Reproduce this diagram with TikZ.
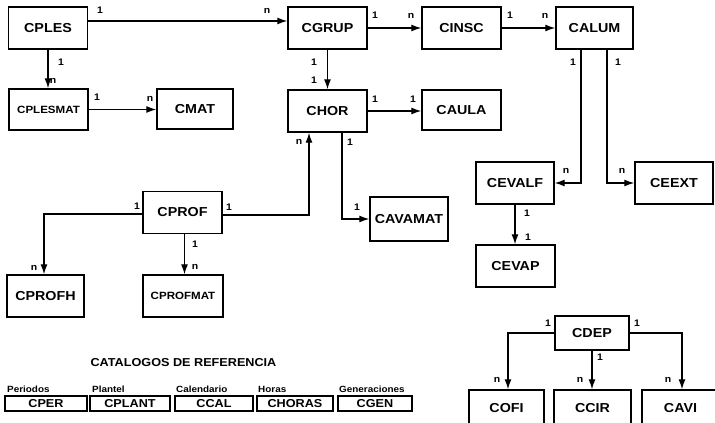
\documentclass[tikz,border=0pt]{standalone}
\usepackage{fontspec}
\setmainfont{Liberation Sans}[FakeStretch=1.1]
\usetikzlibrary{arrows.meta, positioning, calc}

\begin{document}
\begin{tikzpicture}[
    x=1pt, y=-1pt,
    font=\bfseries\fontsize{13}{15}\selectfont,
    rel/.style={-{Latex[length=10pt,width=7pt]}, line width=1.3pt, draw=black},
    entity/.style={draw=black, fill=white, line width=1.4pt, inner sep=0pt, minimum width=79pt, minimum height=42pt},
    smallentity/.style={entity, font=\bfseries\fontsize{10.5}{12}\selectfont},
    catalog/.style={draw=black, fill=white, line width=1.3pt, inner sep=0pt, minimum height=15pt, font=\bfseries\fontsize{11.5}{13}\selectfont},
    caption/.style={anchor=west, inner sep=0pt, font=\bfseries\fontsize{9}{10}\selectfont},
    card/.style={inner sep=0pt, font=\bfseries\fontsize{9.5}{10}\selectfont}
  ]
    \clip (0,0) rectangle (715,423);
    % tablas
    \node[entity] (CPLES) at (48,28) {CPLES};
    \node[entity] (CGRUP) at (327.5,28) {CGRUP};
    \node[entity] (CINSC) at (461.5,28) {CINSC};
    \node[entity, minimum width=77pt] (CALUM) at (594.5,28) {CALUM};
    \node[smallentity, minimum height=41pt] (CPLESMAT) at (48.5,109.5) {CPLESMAT};
    \node[entity, minimum width=76pt, minimum height=40pt] (CMAT) at (195,109) {CMAT};
    \node[entity] (CHOR) at (327.5,111) {CHOR};
    \node[entity, minimum height=40pt] (CAULA) at (461.5,110) {CAULA};
    \node[entity, minimum width=78pt] (CEVALF) at (515,183) {CEVALF};
    \node[entity, minimum width=78pt] (CEEXT) at (674,183) {CEEXT};
    \node[entity, minimum width=78pt, minimum height=44pt] (CAVAMAT) at (409,219) {CAVAMAT};
    \node[entity] (CPROF) at (182.5,212.5) {CPROF};
    \node[entity] (CEVAP) at (515.5,266) {CEVAP};
    \node[entity, minimum width=77pt] (CPROFH) at (45.5,296) {CPROFH};
    \node[smallentity, minimum width=80pt] (CPROFMAT) at (183,296) {CPROFMAT};
    \node[entity, minimum width=74pt, minimum height=34pt] (CDEP) at (592,333) {CDEP};
    \node[entity, minimum width=75pt, minimum height=36pt] (COFI) at (506.5,408) {COFI};
    \node[entity, minimum width=77pt, minimum height=36pt] (CCIR) at (592.5,408) {CCIR};
    \node[entity, minimum width=77pt, minimum height=36pt] (CAVI) at (680.5,408) {CAVI};
    % relaciones
    \draw[rel] ([yshift=7pt]CPLES.east) -- ([yshift=7pt]CGRUP.west);
    \draw[rel] (CPLES.south) -- (CPLES.south |- CPLESMAT.north);
    \draw[rel] (CPLESMAT.east) -- (CPLESMAT.east -| CMAT.west);
    \draw[rel] (CGRUP) -- (CINSC);
    \draw[rel] (CINSC) -- (CALUM);
    \draw[rel] (CGRUP) -- (CHOR);
    \draw[rel] (CHOR.east) -- (CHOR.east -| CAULA.west);
    \draw[rel] ([xshift=-13.5pt]CALUM.south) |- (CEVALF.east);
    \draw[rel] ([xshift=12.5pt]CALUM.south) |- (CEEXT.west);
    \draw[rel] ([xshift=14.5pt]CHOR.south) |- (CAVAMAT.west);
    \draw[rel] ([yshift=-2.5pt]CPROF.east) -| ([xshift=-18.5pt]CHOR.south);
    \draw[rel] ([yshift=-1.5pt]CPROF.west) -| ([xshift=-1.5pt]CPROFH.north);
    \draw[rel] ([xshift=2pt]CPROF.south) -- ([xshift=2pt]CPROF.south |- CPROFMAT.north);
    \draw[rel] (CEVALF.south) -- (CEVALF.south |- CEVAP.north);
    \draw[rel] (CDEP.west) -| ([xshift=1.5pt]COFI.north);
    \draw[rel] (CDEP.south) -- (CDEP.south |- CCIR.north);
    \draw[rel] (CDEP.east) -| ([xshift=1.5pt]CAVI.north);
    % cardinalidades
    \node[card] (k1) at (100,10) {1};
    \node[card] (k2) at (267,11) {n};
    \node[card] (k3) at (61,62) {1};
    \node[card] (k4) at (53,81) {n};
    \node[card] (k5) at (97,97) {1};
    \node[card] (k6) at (150,99) {n};
    \node[card] (k7) at (314,62) {1};
    \node[card] (k8) at (314,80) {1};
    \node[card] (k9) at (375,15) {1};
    \node[card] (k10) at (411,16) {n};
    \node[card] (k11) at (510,15) {1};
    \node[card] (k12) at (545,16) {n};
    \node[card] (k13) at (573,62) {1};
    \node[card] (k14) at (618,62) {1};
    \node[card] (k15) at (375,99) {1};
    \node[card] (k16) at (413,99) {1};
    \node[card] (k17) at (566,171) {n};
    \node[card] (k18) at (622,171) {n};
    \node[card] (k19) at (527,213) {1};
    \node[card] (k20) at (528,237) {1};
    \node[card] (k21) at (299,142) {n};
    \node[card] (k22) at (350,142) {1};
    \node[card] (k23) at (357,207) {1};
    \node[card] (k24) at (137,206) {1};
    \node[card] (k25) at (229,207) {1};
    \node[card] (k26) at (34,268) {n};
    \node[card] (k27) at (195,244) {1};
    \node[card] (k28) at (195,267) {n};
    \node[card] (k29) at (548,323) {1};
    \node[card] (k30) at (637,323) {1};
    \node[card] (k31) at (600,357) {1};
    \node[card] (k32) at (497,380) {n};
    \node[card] (k33) at (580,380) {n};
    \node[card] (k34) at (668,380) {n};
    % catalogos
    \node[font=\bfseries\fontsize{11.5}{13}\selectfont] (titulo) at (183.5,363) {CATALOGOS DE REFERENCIA};
    \node[catalog, minimum width=82pt] (CPER) at (46,403.5) {CPER};
    \node[catalog, minimum width=80pt] (CPLANT) at (130,403.5) {CPLANT};
    \node[catalog, minimum width=78pt] (CCAL) at (214,403.5) {CCAL};
    \node[catalog, minimum width=76pt] (CHORAS) at (295,403.5) {CHORAS};
    \node[catalog, minimum width=74pt] (CGEN) at (375,403.5) {CGEN};
    \node[caption] (tPer) at (7,389) {Periodos};
    \node[caption] (tPla) at (92,389) {Plantel};
    \node[caption] (tCal) at (176,389) {Calendario};
    \node[caption] (tHor) at (258,389) {Horas};
    \node[caption] (tGen) at (339,389) {Generaciones};
\end{tikzpicture}
\end{document}
